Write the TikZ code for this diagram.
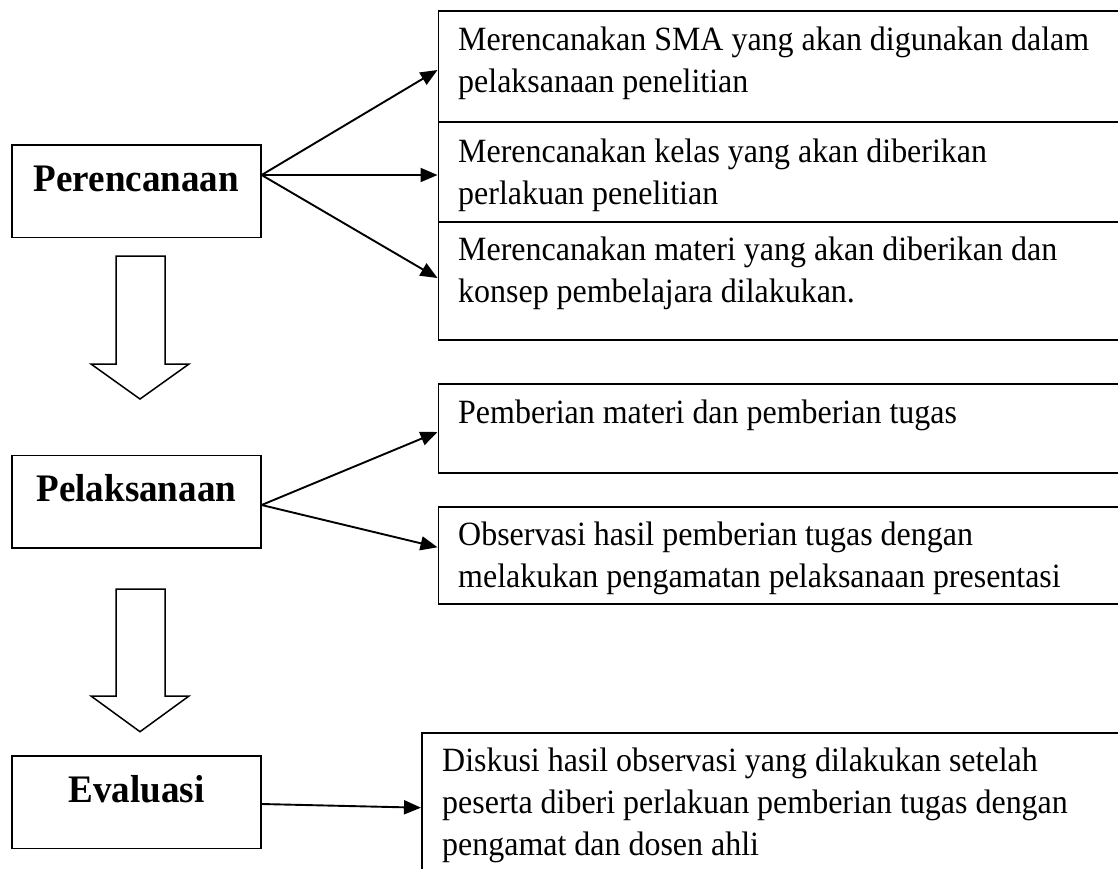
\documentclass[tikz,border=0pt]{standalone}
\usepackage{fontspec}
\setmainfont{Liberation Serif}
\newfontfamily\bodyfont[FakeStretch=0.94]{Liberation Serif}
\newfontfamily\lblfont[FakeStretch=0.95]{Liberation Serif}
\usetikzlibrary{arrows.meta,calc}
\begin{document}
\begin{tikzpicture}[x=1pt,y=-1pt,
  leftbox/.style={draw, line width=1.4pt, minimum width=249pt, minimum height=92.5pt, inner sep=0pt},
  rbox/.style={draw, line width=1.8pt, inner sep=0pt, anchor=north west, minimum width=720pt},
  lbl/.style={font=\lblfont\fontsize{39}{46}\selectfont\bfseries, anchor=base, inner sep=0pt},
  body/.style={font=\bodyfont\fontsize{34}{42}\selectfont, anchor=base west, inner sep=0pt, align=flush left, text width=670pt},
  arr/.style={line width=1.9pt, -{Triangle[length=17pt,width=14pt]}},
  hollow/.style={draw, line width=1.5pt, fill=white, line join=miter}
]
\useasboundingbox (0,0) rectangle (1118,868);
\clip (0,0) rectangle (1118,868);
\fill[white] (0,0) rectangle (1118,868);

% left stage boxes
\node[leftbox] (perc) at (136.4,191.4) {};
\node[lbl] (perct) at (perc.center) {Perencanaan};
\node[leftbox] (pel) at (136.4,501.7) {};
\node[lbl] (pelt) at (pel.center) {Pelaksanaan};
\node[leftbox] (eval) at (136.4,802.2) {};
\node[lbl] (evalt) at (eval.center) {Evaluasi};

% right boxes
\node[rbox, minimum height=111pt] (b1) at (437.5,10) {};
\node[rbox, minimum height=99.7pt] (b2) at (437.5,121) {};
\node[rbox, minimum height=118.6pt] (b3) at (437.5,220.7) {};
\node[rbox, minimum height=89.3pt] (b4) at (437.5,383) {};
\node[rbox, minimum height=96.7pt] (b5) at (437.5,506) {};
\node[rbox, minimum height=170pt] (b6) at (421,731.7) {};

\node[body] (t1) at (458,50) {Merencanakan SMA yang akan digunakan dalam\\pelaksanaan penelitian};
\node[body] (t2) at (458,162) {Merencanakan kelas yang akan diberikan\\perlakuan penelitian};
\node[body] (t3) at (458,260) {Merencanakan materi yang akan diberikan dan\\konsep pembelajara dilakukan.};
\node[body] (t4) at (458,423.3) {Pemberian materi dan pemberian tugas};
\node[body] (t5) at (458,545) {Observasi hasil pemberian tugas dengan\\melakukan pengamatan pelaksanaan presentasi};
\node[body] (t6) at (442,771.7) {Diskusi hasil observasi yang dilakukan setelah\\peserta diberi perlakuan pemberian tugas dengan\\pengamat dan dosen ahli};

% connectors
\draw[arr] (perc.east |- 0,175) -- (b1.west |- 0,70);
\draw[arr] (perc.east |- 0,175) -- (b2.west |- 0,175);
\draw[arr] (perc.east |- 0,175) -- (b3.west |- 0,278);
\draw[arr] (pel.east |- 0,505) -- (b4.west |- 0,432);
\draw[arr] (pel.east |- 0,505) -- (b5.west |- 0,547.3);
\draw[arr] (eval.east |- 0,804) -- (b6.west |- 0,807.7);

% hollow down arrows
\draw[hollow] (116,256) -- (165,256) -- (165,364) -- (189,364) -- (140,399) -- (91,364) -- (116,364) -- cycle;
\draw[hollow] (116,589) -- (165,589) -- (165,696) -- (189,696) -- (140,731.7) -- (91,696) -- (116,696) -- cycle;
\end{tikzpicture}
\end{document}
